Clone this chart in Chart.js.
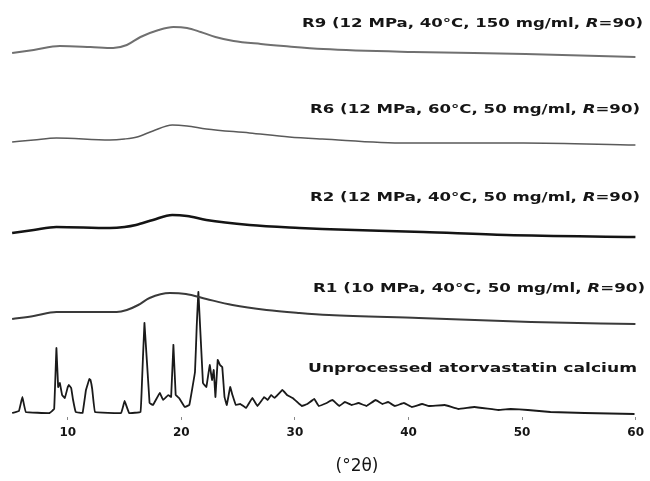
<!DOCTYPE html>
<html>
<head>
<meta charset="utf-8">
<script src="https://cdn.jsdelivr.net/npm/chart.js@4.4.1/dist/chart.umd.min.js"></script>
<style>body{margin:0;background:#fff}</style>
</head>
<body>
<canvas id="xrd" width="650" height="481"></canvas>
<script>
// x axis (degrees 2-theta)
const xTicks = [10, 20, 30, 40, 50, 60];

// stacked intensities (a.u., offset per trace)
const r9Theta = [5.1, 7.0, 9.3, 12.0, 14.0, 15.2, 16.4, 18.0, 19.3, 20.5, 21.7, 23.0, 24.6, 27.0, 29.0, 32.5, 40.4, 50.3, 60];
const r9Int   = [364, 367, 371, 370, 369, 372, 380, 387, 390, 389, 385, 380, 376, 373, 371, 368, 365, 363, 360];

const r6Theta = [5.1, 7.0, 9.0, 13.7, 15.0, 16.1, 17.5, 19.2, 20.5, 22.2, 26.0, 29.5, 32.4, 39.8, 50.1, 60];
const r6Int   = [275, 277, 279, 277, 278, 280, 286, 292, 291, 288, 284, 280, 278, 274, 274, 272];

const r2Theta = [5.1, 7.0, 9.0, 13.7, 15.0, 16.0, 17.5, 19.2, 20.5, 22.2, 26.0, 30.4, 32.4, 41.3, 48.6, 60];
const r2Int   = [184, 187, 190, 189, 190, 192, 197, 202, 201, 197, 192, 189, 188, 185, 182, 180];

const r1Theta = [5.1, 7.0, 9.0, 14.3, 15.2, 16.2, 17.2, 19.0, 20.4, 22.2, 24.5, 27.5, 30.4, 33.0, 40.9, 50.8, 60];
const r1Int   = [98, 101, 105, 105, 107, 112, 119, 124, 123, 118, 112, 107, 104, 102, 99, 95, 93];

const rawTheta = [5.1, 5.7, 6.0, 6.3, 8.4, 8.8, 9.0, 9.15, 9.3, 9.5, 9.74, 10.0, 10.1, 10.3, 10.45, 10.7,
  11.3, 11.6, 11.9, 12.0, 12.15, 12.4, 14.7, 15.0, 15.4, 16.4, 16.5, 16.75, 17.2, 17.5, 18.1, 18.4,
  18.85, 19.1, 19.3, 19.5, 19.8, 20.3, 20.7, 21.2, 21.35, 21.5, 21.9, 22.2, 22.5, 22.7, 22.85, 23.0,
  23.2, 23.4, 23.6, 23.8, 24.0, 24.3, 24.5, 24.8, 25.2, 25.7, 26.25, 26.7, 27.3, 27.6, 27.9, 28.2,
  28.9, 29.3, 29.8, 30.2, 30.6, 31.1, 31.7, 32.1, 32.8, 33.3, 33.9, 34.4, 35.0, 35.6, 36.3, 37.1,
  37.7, 38.2, 38.8, 39.6, 40.3, 41.2, 41.8, 43.2, 44.4, 45.8, 47.9, 49.0, 50.5, 52.5, 55.5, 59.9];
const rawInt = [4, 6, 20, 5, 4, 8, 69, 30, 34, 22, 19, 30, 32, 29, 18, 5,
  4, 27, 38, 37, 28, 5, 4, 16, 4, 5, 25, 94, 14, 12, 24, 17,
  22, 20, 72, 22, 19, 10, 12, 45, 90, 125, 34, 30, 52, 37, 47, 20,
  57, 52, 50, 20, 12, 30, 22, 12, 13, 9, 19, 11, 20, 17, 22, 19,
  27, 22, 19, 15, 11, 13, 18, 11, 14, 17, 11, 15, 12, 14, 11, 17,
  13, 15, 11, 14, 10, 13, 11, 12, 8, 10, 7, 8, 7, 5, 4, 3];

const sampleNames = [
  'R9 (12 MPa, 40°C, 150 mg/ml, ',
  'R6 (12 MPa, 60°C, 50 mg/ml, ',
  'R2 (12 MPa, 40°C, 50 mg/ml, ',
  'R1 (10 MPa, 40°C, 50 mg/ml, ',
  'Unprocessed atorvastatin calcium'
];
const axisTitle = '(°2θ)';

function pts(t, v) { return t.map((x, i) => ({ x: x, y: v[i] })); }

const labelPos = [
  { x: 302, y: 24, w: 341 },
  { x: 310, y: 110, w: 330 },
  { x: 310, y: 198, w: 330 },
  { x: 313, y: 289, w: 332 },
  { x: 308, y: 369, w: 329 }
];

const textPlugin = {
  id: 'xrdText',
  afterDraw(chart) {
    const ctx = chart.ctx;
    ctx.save();
    ctx.fillStyle = '#151515';
    ctx.textBaseline = 'middle';
    sampleNames.forEach((name, i) => {
      const p = labelPos[i];
      const bold = 'bold 13px "DejaVu Sans"';
      const ital = 'italic bold 13px "DejaVu Sans"';
      const parts = i < 4 ? [[name, bold], ['R', ital], ['=90)', bold]] : [[name, bold]];
      let total = 0;
      parts.forEach(pt => { ctx.font = pt[1]; total += ctx.measureText(pt[0]).width; });
      ctx.save();
      ctx.translate(p.x, p.y);
      ctx.scale(p.w / total, 1);
      let cx = 0;
      parts.forEach(pt => {
        ctx.font = pt[1];
        ctx.fillText(pt[0], cx, 0);
        cx += ctx.measureText(pt[0]).width;
      });
      ctx.restore();
    });
    ctx.font = '17px "DejaVu Sans"';
    ctx.textAlign = 'center';
    ctx.fillText(axisTitle, 357, 467);
    ctx.restore();
  }
};

new Chart(document.getElementById('xrd'), {
  type: 'line',
  data: {
    datasets: [
      { data: pts(r9Theta, r9Int), borderColor: '#707070', borderWidth: 2, cubicInterpolationMode: 'monotone' },
      { data: pts(r6Theta, r6Int), borderColor: '#5a5a5a', borderWidth: 1.5, cubicInterpolationMode: 'monotone' },
      { data: pts(r2Theta, r2Int), borderColor: '#141414', borderWidth: 2.6, cubicInterpolationMode: 'monotone' },
      { data: pts(r1Theta, r1Int), borderColor: '#3a3a3a', borderWidth: 2, cubicInterpolationMode: 'monotone' },
      { data: pts(rawTheta, rawInt), borderColor: '#1a1a1a', borderWidth: 1.8, tension: 0.05 }
    ]
  },
  options: {
    responsive: false,
    animation: false,
    devicePixelRatio: 1,
    layout: { padding: { top: 7, left: 11, right: 12, bottom: 0 } },
    elements: { point: { radius: 0 } },
    plugins: { legend: { display: false }, tooltip: { enabled: false } },
    scales: {
      x: {
        type: 'linear',
        min: 5,
        max: 60,
        afterBuildTicks: s => { s.ticks = xTicks.map(v => ({ value: v })); },
        afterFit: s => { s.height = 64; },
        border: { display: false },
        grid: { drawOnChartArea: false, tickLength: 3, color: '#888' },
        ticks: { color: '#151515', padding: 6, font: { family: 'DejaVu Sans', size: 12, weight: 'bold' } }
      },
      y: { display: false, min: 0, max: 410 }
    }
  },
  plugins: [textPlugin]
});
</script>
</body>
</html>
